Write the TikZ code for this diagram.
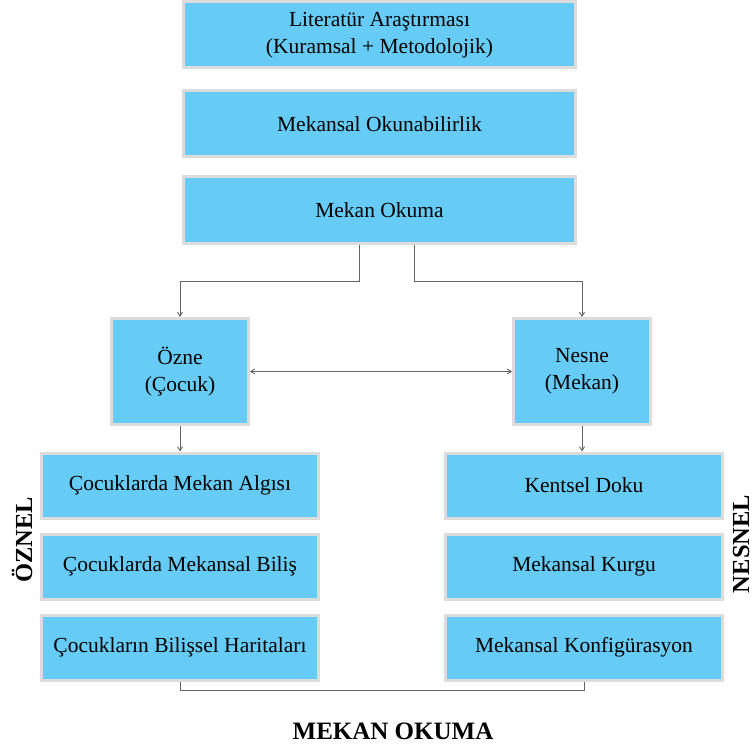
\documentclass[tikz,border=0pt]{standalone}
\usepackage{fontspec}
\setmainfont{Liberation Serif}
\usepackage{tikz}
\usetikzlibrary{positioning,arrows.meta}
\definecolor{kutumavi}{RGB}{102,204,245}
\definecolor{kutukenar}{RGB}{220,220,220}
\definecolor{okgri}{RGB}{100,100,100}

\begin{document}
\begin{tikzpicture}[
  x=1pt, y=-1pt,
  font=\fontsize{21.5}{27}\selectfont,
  kutu/.style  = {rectangle, draw=kutukenar, line width=3pt, fill=kutumavi,
    align=center, inner sep=2pt},
  genis/.style = {kutu, minimum width=392pt, minimum height=66pt},
  kare/.style  = {kutu, minimum width=137pt, minimum height=106pt},
  liste/.style = {kutu, minimum width=277pt, minimum height=65pt},
  yan/.style   = {font=\fontsize{24.5}{26}\selectfont\bfseries, rotate=90},
  ok/.style    = {-{Straight Barb[length=4pt,width=5pt]}, line width=0.9pt, draw=okgri},
  cizgi/.style = {line width=0.9pt, draw=okgri},
]
  \useasboundingbox (0,0) rectangle (754,751);

  % ust kutular
  \node[genis] (lit) at (379.5,35) {Literatür Araştırması\\(Kuramsal + Metodolojik)};
  \node[genis, below=20pt of lit] (okn) {Mekansal Okunabilirlik};
  \node[genis, below=17pt of okn] (mek) {Mekan Okuma};

  % özne / nesne
  \node[kare] (ozne) at (180,371.5) {Özne\\(Çocuk)};
  \node[kare] (nesne) at (582,371.5) {Nesne\\(Mekan)};

  % sol liste
  \node[liste] (alg) at (180,485.5) {Çocuklarda Mekan Algısı};
  \node[liste, below=13pt of alg] (bil) {Çocuklarda Mekansal Biliş};
  \node[liste, below=13pt of bil] (har) {Çocukların Bilişsel Haritaları};

  % sağ liste
  \node[liste] (dok) at (584,485.5) {Kentsel Doku};
  \node[liste, below=13pt of dok] (kur) {Mekansal Kurgu};
  \node[liste, below=13pt of kur] (kon) {Mekansal Konfigürasyon};

  \node[yan] (oznel) at (22,540) {ÖZNEL};
  \node[yan] (nesnel) at (741,544) {NESNEL};
  \node[font=\fontsize{25}{27}\selectfont\bfseries] (baslik) at (393,731) {MEKAN OKUMA};

  \draw[ok] ([xshift=-20pt]mek.south) -- ++(0,37) -| (ozne.north);
  \draw[ok] ([xshift=35pt]mek.south) -- ++(0,37) -| (nesne.north);
  \draw[ok, {Straight Barb[length=4pt,width=5pt]}-{Straight Barb[length=4pt,width=5pt]}] (ozne) -- (nesne);
  \draw[ok] (ozne.south) -- (alg.north);
  \draw[ok] (nesne.south) -- (nesne.south |- dok.north);
  \draw[cizgi] (har.south) -- ++(0,9) -| (kon.south);
\end{tikzpicture}
\end{document}
